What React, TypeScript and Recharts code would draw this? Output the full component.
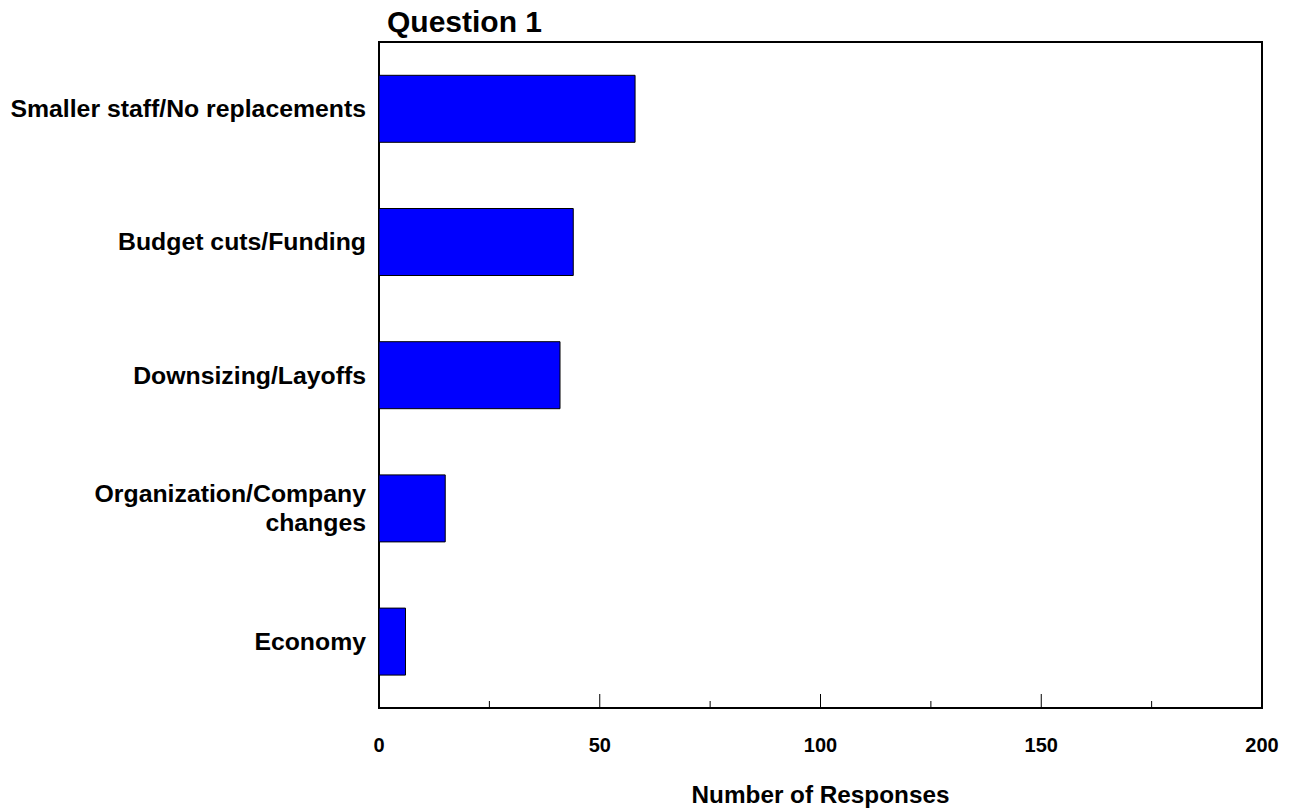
import { BarChart, Bar, XAxis, YAxis, ReferenceArea } from "recharts";

const categories = [
  "Smaller staff/No replacements",
  "Budget cuts/Funding",
  "Downsizing/Layoffs",
  "Organization/Company\nchanges",
  "Economy",
];
const responses = [58, 44, 41, 15, 6];
const xTicks = [0, 25, 50, 75, 100, 125, 150, 175, 200];

const data = categories.map((label, i) => ({ label, value: responses[i] }));

const FONT = "'Liberation Sans', Arial, Helvetica, sans-serif";

const XTick = ({ x, y, payload }: any) => {
  const major = payload.value % 50 === 0;
  return (
    <g>
      <line x1={x} x2={x} y1={y} y2={y - (major ? 14 : 7)} stroke="#000" strokeWidth={1} />
      {major && (
        <text x={x} y={y + 44} textAnchor="middle" fontFamily={FONT} fontWeight="bold" fontSize={20} fill="#000">
          {payload.value}
        </text>
      )}
    </g>
  );
};

const YTick = ({ x, y, payload }: any) => {
  const lines = String(payload.value).split("\n");
  const lineH = 29;
  const start = y - ((lines.length - 1) * lineH) / 2;
  return (
    <text textAnchor="end" fontFamily={FONT} fontWeight="bold" fontSize={24.8} fill="#000">
      {lines.map((l, i) => (
        <tspan key={i} x={x - 13} y={start + i * lineH} dy="0.35em">
          {l}
        </tspan>
      ))}
    </text>
  );
};

export default function App() {
  return (
    <div style={{ position: "absolute", left: 0, top: 0, width: 1291, height: 812, background: "#fff" }}>
      <div
        style={{
          position: "absolute",
          left: 387,
          top: 7,
          fontFamily: FONT,
          fontWeight: "bold",
          fontSize: 30,
          lineHeight: "29px",
          color: "#000",
        }}
      >
        Question 1
      </div>
      <BarChart
        width={1291}
        height={812}
        data={data}
        layout="vertical"
        margin={{ top: 42, right: 29, left: 0, bottom: 0 }}
        barCategoryGap="25%"
      >
        <XAxis
          type="number"
          domain={[0, 200]}
          ticks={xTicks}
          interval={0}
          height={104}
          tickSize={0}
          tickMargin={0}
          tickLine={false}
          axisLine={false}
          tick={<XTick />}
          label={{
            value: "Number of Responses",
            position: "insideBottom",
            offset: 9,
            fill: "#000",
            fontSize: 24.3,
            fontWeight: "bold",
            fontFamily: FONT,
          }}
        />
        <YAxis
          type="category"
          dataKey="label"
          width={379}
          tickSize={0}
          tickMargin={0}
          tickLine={false}
          axisLine={false}
          interval={0}
          tick={<YTick />}
        />
        <Bar dataKey="value" fill="#0000FF" stroke="#000" strokeWidth={1} isAnimationActive={false} />
        <ReferenceArea x1={0} x2={200} fill="none" stroke="#000" strokeWidth={2} ifOverflow="visible" />
      </BarChart>
    </div>
  );
}
